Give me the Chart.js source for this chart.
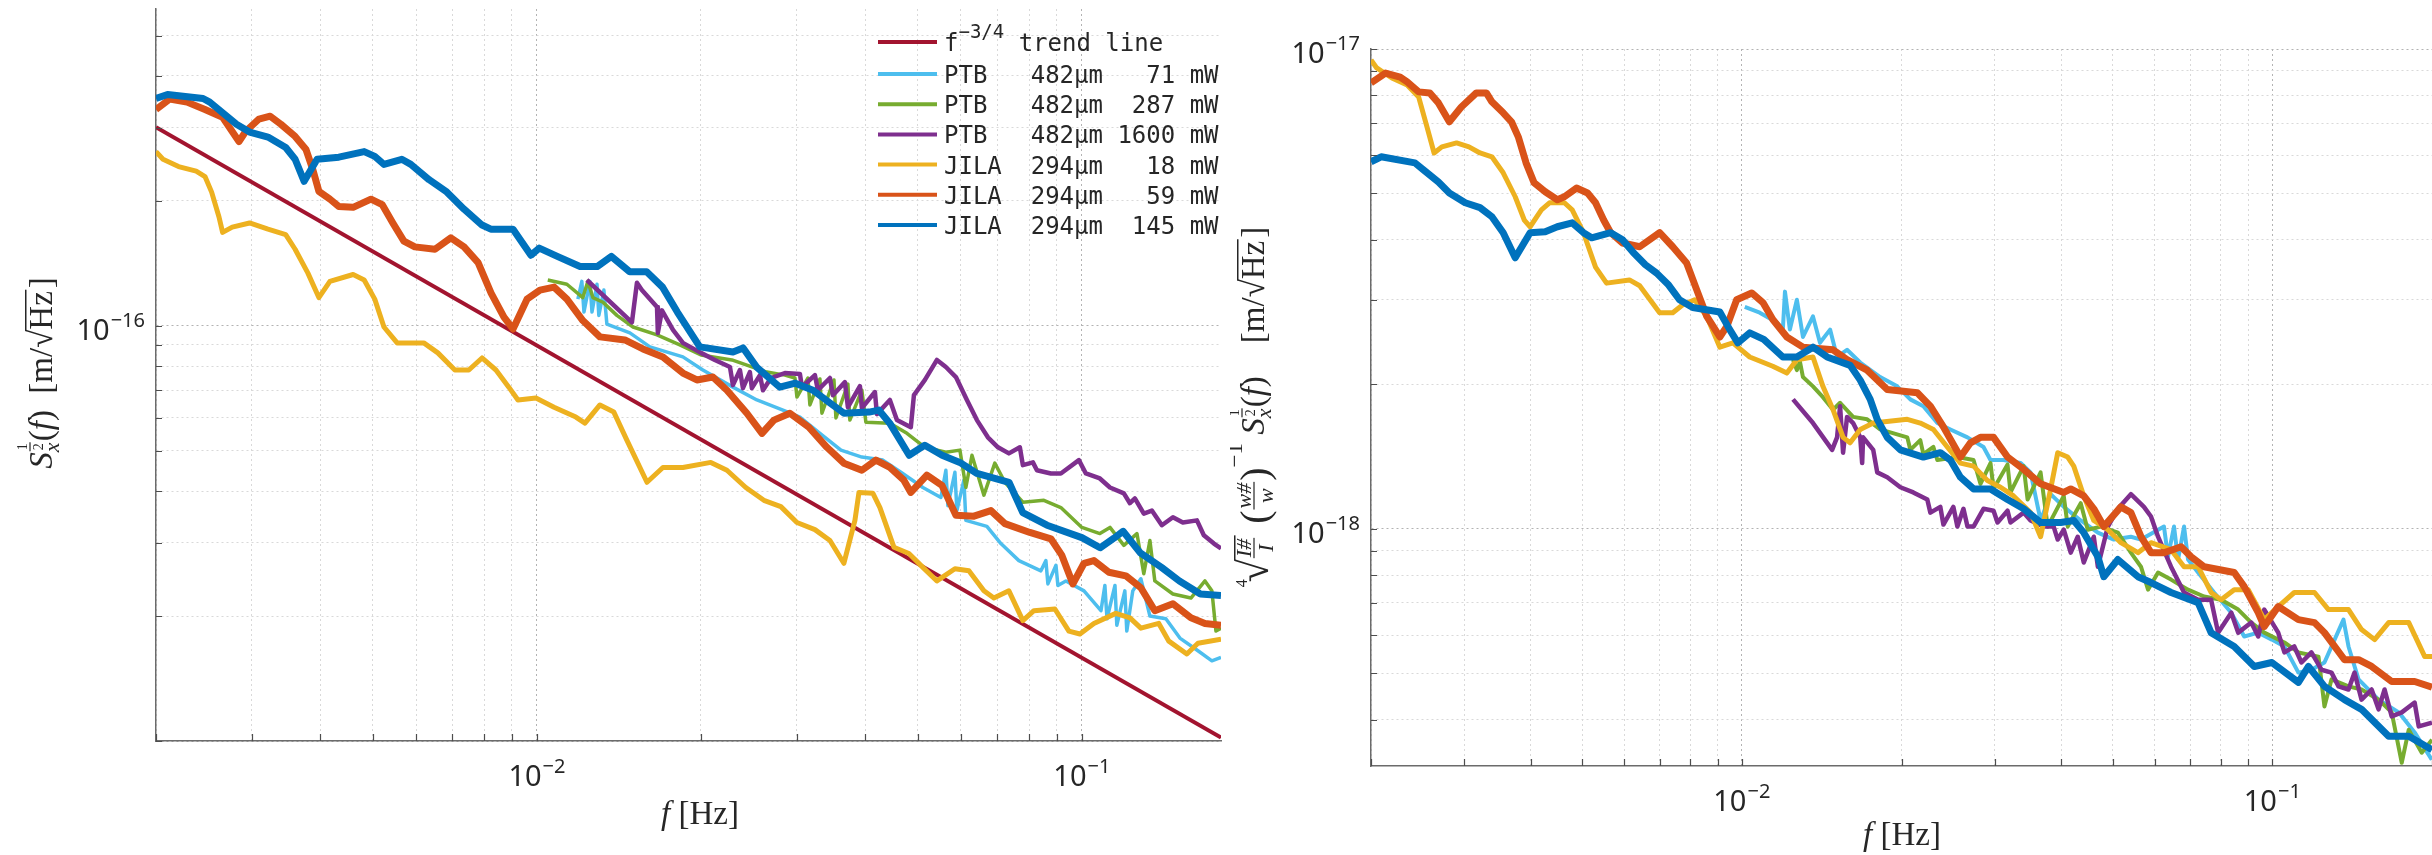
<!DOCTYPE html>
<html>
<head>
<meta charset="utf-8">
<script src="https://cdn.jsdelivr.net/npm/chart.js@4.4.1/dist/chart.umd.min.js"></script>
<style>
  html, body { margin: 0; padding: 0; background: #fff; }
  #wrap { position: relative; width: 2432px; height: 855px; overflow: hidden; }
  canvas { position: absolute; top: 0; }
  #left { left: 0; width: 1230px; height: 855px; }
  #right { left: 1230px; width: 1202px; height: 855px; }
</style>
</head>
<body>
<div id="wrap">
  <canvas id="left" width="1230" height="855"></canvas>
  <canvas id="right" width="1202" height="855"></canvas>
</div>
<script>
// Legend labels, in plotting order
const seriesLabels = [
  "f^(-3/4) trend line",
  "PTB   482μm   71 mW",
  "PTB   482μm  287 mW",
  "PTB   482μm 1600 mW",
  "JILA  294μm   18 mW",
  "JILA  294μm   59 mW",
  "JILA  294μm  145 mW",
];

// Tick labels (powers of ten that carry a label)
const leftXTicks = [0.01, 0.1];
const leftYTicks = [1e-16];
const rightXTicks = [0.01, 0.1];
const rightYTicks = [1e-18, 1e-17];

// ---- left panel: S_x^(1/2)(f) ----
const trendF = [0.002, 0.18];
const trendV = [3.01e-16, 1.02e-17];

const leftPtb71F = [0.01189, 0.01209, 0.0122, 0.01251, 0.01262, 0.01289, 0.01299, 0.01327, 0.01344, 0.01481, 0.01612, 0.01853, 0.02016, 0.02289, 0.02533, 0.02828, 0.03038, 0.03306, 0.03613, 0.03947, 0.04313, 0.04655, 0.05108, 0.05512, 0.05629, 0.05677, 0.05848, 0.05897, 0.06074, 0.06125, 0.06694, 0.07102, 0.07663, 0.0841, 0.08589, 0.08662, 0.08963, 0.09036, 0.09347, 0.1009, 0.1084, 0.1102, 0.1112, 0.115, 0.1159, 0.1199, 0.1209, 0.124, 0.1283, 0.1333, 0.1426, 0.1513, 0.1633, 0.1732, 0.18];
const leftPtb71V = [1.16e-16, 1.28e-16, 1.08e-16, 1.28e-16, 1.08e-16, 1.26e-16, 1.06e-16, 1.22e-16, 1.01e-16, 9.62e-17, 8.9e-17, 8.42e-17, 7.83e-17, 7.12e-17, 6.63e-17, 6.27e-17, 6.03e-17, 5.51e-17, 5.02e-17, 4.83e-17, 4.75e-17, 4.44e-17, 4.08e-17, 3.86e-17, 4.49e-17, 3.69e-17, 4.44e-17, 3.59e-17, 4.25e-17, 3.4e-17, 3.29e-17, 2.99e-17, 2.72e-17, 2.57e-17, 2.72e-17, 2.39e-17, 2.65e-17, 2.37e-17, 2.43e-17, 2.3e-17, 2.06e-17, 2.37e-17, 1.97e-17, 2.37e-17, 1.9e-17, 2.3e-17, 1.84e-17, 2.3e-17, 2.46e-17, 2.0e-17, 1.97e-17, 1.77e-17, 1.65e-17, 1.56e-17, 1.59e-17];

const leftPtb287F = [0.01047, 0.01135, 0.01214, 0.0124, 0.01267, 0.01322, 0.01402, 0.01501, 0.01661, 0.01829, 0.02, 0.02279, 0.02642, 0.02851, 0.02975, 0.03, 0.03142, 0.03169, 0.03306, 0.03334, 0.03508, 0.03537, 0.03721, 0.03752, 0.03947, 0.04015, 0.04443, 0.04775, 0.05152, 0.05629, 0.05973, 0.06125, 0.06285, 0.0661, 0.06922, 0.07223, 0.07793, 0.08516, 0.0915, 0.1, 0.1079, 0.1126, 0.1194, 0.1262, 0.1299, 0.1333, 0.1361, 0.1469, 0.1585, 0.1682, 0.1732, 0.1762, 0.18];
const leftPtb287V = [1.29e-16, 1.26e-16, 1.17e-16, 1.28e-16, 1.17e-16, 1.14e-16, 1.06e-16, 9.94e-17, 9.51e-17, 9.0e-17, 8.51e-17, 8.28e-17, 7.74e-17, 7.61e-17, 7.49e-17, 6.74e-17, 7.49e-17, 6.45e-17, 7.45e-17, 6.16e-17, 7.41e-17, 6.0e-17, 7.24e-17, 5.93e-17, 7.0e-17, 5.86e-17, 5.83e-17, 5.51e-17, 5.1e-17, 4.96e-17, 5.02e-17, 4.08e-17, 4.88e-17, 3.91e-17, 4.67e-17, 4.2e-17, 3.76e-17, 3.8e-17, 3.65e-17, 3.27e-17, 3.16e-17, 3.27e-17, 2.96e-17, 3.16e-17, 2.53e-17, 3.04e-17, 2.43e-17, 2.26e-17, 2.21e-17, 2.43e-17, 2.3e-17, 1.84e-17, 1.87e-17];

const leftPtb1600F = [0.01235, 0.01494, 0.01526, 0.01558, 0.01661, 0.01667, 0.01696, 0.01777, 0.01853, 0.02, 0.02121, 0.02261, 0.02289, 0.02358, 0.02388, 0.02459, 0.0248, 0.02566, 0.02599, 0.02688, 0.02851, 0.03038, 0.03064, 0.03237, 0.03278, 0.03449, 0.03492, 0.03674, 0.03721, 0.03915, 0.03947, 0.04171, 0.04206, 0.04443, 0.04577, 0.04854, 0.04918, 0.05152, 0.0542, 0.05629, 0.05873, 0.06152, 0.06418, 0.06722, 0.07015, 0.07346, 0.07695, 0.07793, 0.08131, 0.0827, 0.08772, 0.0915, 0.09874, 0.1017, 0.1079, 0.1126, 0.1194, 0.1225, 0.1251, 0.1299, 0.1344, 0.1402, 0.1469, 0.1532, 0.1626, 0.1674, 0.1747, 0.18];
const leftPtb1600V = [1.29e-16, 1.02e-16, 1.27e-16, 1.22e-16, 1.11e-16, 9.62e-17, 1.09e-16, 9.78e-17, 9.1e-17, 8.61e-17, 8.28e-17, 7.96e-17, 7.2e-17, 7.83e-17, 7.08e-17, 7.74e-17, 7.08e-17, 7.61e-17, 7.0e-17, 7.49e-17, 7.7e-17, 7.66e-17, 7.12e-17, 7.61e-17, 7.0e-17, 7.49e-17, 6.81e-17, 7.32e-17, 6.37e-17, 7.16e-17, 6.34e-17, 6.93e-17, 6.13e-17, 6.63e-17, 5.93e-17, 5.7e-17, 6.81e-17, 7.41e-17, 8.28e-17, 7.96e-17, 7.53e-17, 6.63e-17, 5.93e-17, 5.39e-17, 5.1e-17, 4.93e-17, 5.1e-17, 4.62e-17, 4.69e-17, 4.49e-17, 4.41e-17, 4.41e-17, 4.75e-17, 4.41e-17, 4.29e-17, 4.08e-17, 3.95e-17, 3.74e-17, 3.84e-17, 3.53e-17, 3.59e-17, 3.31e-17, 3.46e-17, 3.36e-17, 3.4e-17, 3.13e-17, 2.99e-17, 2.91e-17];

const leftJila18F = [0.002, 0.00206, 0.0022, 0.00237, 0.00246, 0.00253, 0.00261, 0.00265, 0.00276, 0.00297, 0.00321, 0.00346, 0.0036, 0.0038, 0.00398, 0.00417, 0.0046, 0.00482, 0.00504, 0.00524, 0.00554, 0.0062, 0.00658, 0.00707, 0.0075, 0.00793, 0.00841, 0.00888, 0.00923, 0.00996, 0.01075, 0.01179, 0.01225, 0.01305, 0.01384, 0.01463, 0.01592, 0.01703, 0.01853, 0.02085, 0.02232, 0.02417, 0.02609, 0.02803, 0.03, 0.03237, 0.03449, 0.03658, 0.03833, 0.03899, 0.04136, 0.0426, 0.04519, 0.04815, 0.05108, 0.0542, 0.05848, 0.06204, 0.0661, 0.06894, 0.07346, 0.07793, 0.08166, 0.08922, 0.09465, 0.09916, 0.1052, 0.1154, 0.1225, 0.1283, 0.1384, 0.1444, 0.1558, 0.1633, 0.18];
const leftJila18V = [2.63e-16, 2.52e-16, 2.42e-16, 2.36e-16, 2.29e-16, 2.1e-16, 1.83e-16, 1.68e-16, 1.73e-16, 1.77e-16, 1.71e-16, 1.66e-16, 1.53e-16, 1.34e-16, 1.17e-16, 1.28e-16, 1.33e-16, 1.29e-16, 1.16e-16, 9.94e-17, 9.1e-17, 9.1e-17, 8.61e-17, 7.83e-17, 7.83e-17, 8.37e-17, 7.83e-17, 7.12e-17, 6.63e-17, 6.7e-17, 6.37e-17, 6.03e-17, 5.83e-17, 6.45e-17, 6.2e-17, 5.3e-17, 4.2e-17, 4.56e-17, 4.56e-17, 4.69e-17, 4.49e-17, 4.08e-17, 3.8e-17, 3.67e-17, 3.36e-17, 3.23e-17, 3.04e-17, 2.68e-17, 3.4e-17, 3.97e-17, 3.95e-17, 3.65e-17, 2.93e-17, 2.83e-17, 2.62e-17, 2.43e-17, 2.6e-17, 2.57e-17, 2.3e-17, 2.21e-17, 2.3e-17, 1.95e-17, 2.06e-17, 2.08e-17, 1.84e-17, 1.81e-17, 1.92e-17, 2.03e-17, 1.98e-17, 1.87e-17, 1.92e-17, 1.74e-17, 1.62e-17, 1.72e-17, 1.76e-17];

const leftJila59F = [0.002, 0.00212, 0.00228, 0.00246, 0.00265, 0.00284, 0.00292, 0.00309, 0.00324, 0.00339, 0.0036, 0.00377, 0.00388, 0.00398, 0.00417, 0.00433, 0.0046, 0.00496, 0.0052, 0.00544, 0.0057, 0.00597, 0.0065, 0.00695, 0.00735, 0.0078, 0.00824, 0.0087, 0.00904, 0.00959, 0.01013, 0.01075, 0.01135, 0.01214, 0.01305, 0.0145, 0.01565, 0.01703, 0.01853, 0.01966, 0.02103, 0.02232, 0.02428, 0.02588, 0.02722, 0.02912, 0.03155, 0.03405, 0.03658, 0.03947, 0.04188, 0.04443, 0.04713, 0.04854, 0.05195, 0.05535, 0.05873, 0.06338, 0.06808, 0.07223, 0.08027, 0.08772, 0.0919, 0.09627, 0.1009, 0.1052, 0.1121, 0.1204, 0.1283, 0.1361, 0.1469, 0.1585, 0.1682, 0.18];
const leftJila59V = [3.32e-16, 3.52e-16, 3.46e-16, 3.32e-16, 3.18e-16, 2.78e-16, 2.94e-16, 3.15e-16, 3.2e-16, 3.06e-16, 2.86e-16, 2.66e-16, 2.38e-16, 2.11e-16, 2.02e-16, 1.94e-16, 1.93e-16, 2.02e-16, 1.96e-16, 1.77e-16, 1.6e-16, 1.55e-16, 1.53e-16, 1.63e-16, 1.55e-16, 1.42e-16, 1.2e-16, 1.05e-16, 9.83e-17, 1.16e-16, 1.22e-16, 1.24e-16, 1.16e-16, 1.03e-16, 9.41e-17, 9.25e-17, 8.8e-17, 8.42e-17, 7.7e-17, 7.41e-17, 7.53e-17, 7.0e-17, 6.16e-17, 5.51e-17, 5.93e-17, 6.16e-17, 5.7e-17, 5.1e-17, 4.67e-17, 4.49e-17, 4.75e-17, 4.56e-17, 4.25e-17, 3.97e-17, 4.37e-17, 4.13e-17, 3.5e-17, 3.48e-17, 3.59e-17, 3.34e-17, 3.18e-17, 3.07e-17, 2.8e-17, 2.39e-17, 2.68e-17, 2.72e-17, 2.55e-17, 2.5e-17, 2.34e-17, 2.06e-17, 2.14e-17, 1.98e-17, 1.92e-17, 1.9e-17];

const leftJila145F = [0.002, 0.0021, 0.00244, 0.00251, 0.00281, 0.00297, 0.00321, 0.00346, 0.0036, 0.00374, 0.00395, 0.00433, 0.00482, 0.00504, 0.00524, 0.00565, 0.00587, 0.00634, 0.00681, 0.00735, 0.00793, 0.00823, 0.00904, 0.00975, 0.0101, 0.0109, 0.012, 0.0129, 0.0137, 0.0148, 0.0159, 0.017, 0.0181, 0.0199, 0.0229, 0.0239, 0.0253, 0.0279, 0.0298, 0.0321, 0.0345, 0.0366, 0.0407, 0.0424, 0.0444, 0.0482, 0.0515, 0.0554, 0.0597, 0.0642, 0.0735, 0.0779, 0.0863, 0.1, 0.108, 0.1145, 0.119, 0.128, 0.14, 0.151, 0.165, 0.18];
const leftJila145V = [3.53e-16, 3.61e-16, 3.53e-16, 3.46e-16, 3.06e-16, 2.93e-16, 2.85e-16, 2.69e-16, 2.52e-16, 2.23e-16, 2.52e-16, 2.55e-16, 2.63e-16, 2.56e-16, 2.45e-16, 2.52e-16, 2.45e-16, 2.25e-16, 2.11e-16, 1.91e-16, 1.75e-16, 1.71e-16, 1.71e-16, 1.48e-16, 1.54e-16, 1.47e-16, 1.39e-16, 1.39e-16, 1.47e-16, 1.35e-16, 1.35e-16, 1.24e-16, 1.08e-16, 8.9e-17, 8.65e-17, 8.85e-17, 7.96e-17, 7.12e-17, 7.28e-17, 7.0e-17, 6.52e-17, 6.16e-17, 6.2e-17, 6.27e-17, 5.83e-17, 4.88e-17, 5.16e-17, 4.88e-17, 4.69e-17, 4.41e-17, 4.2e-17, 3.55e-17, 3.31e-17, 3.09e-17, 2.92e-17, 3.08e-17, 3.2e-17, 2.84e-17, 2.62e-17, 2.43e-17, 2.26e-17, 2.24e-17];

// ---- right panel: normalised spectra ----
const rightPtb71F = [0.01013, 0.01081, 0.01165, 0.01195, 0.01206, 0.01232, 0.0127, 0.01304, 0.01362, 0.01404, 0.01467, 0.01512, 0.01579, 0.01672, 0.01823, 0.01963, 0.02078, 0.02199, 0.02337, 0.02473, 0.02663, 0.02855, 0.02943, 0.03114, 0.03354, 0.03502, 0.03658, 0.03821, 0.04045, 0.04354, 0.0469, 0.05027, 0.05413, 0.05655, 0.06248, 0.0636, 0.06527, 0.06642, 0.06818, 0.06937, 0.07246, 0.07767, 0.08368, 0.08852, 0.09408, 0.0998, 0.1054, 0.112, 0.1185, 0.1254, 0.1362, 0.1392, 0.1454, 0.1586, 0.1731, 0.1855, 0.1998];
const rightPtb71V = [2.9e-18, 2.82e-18, 2.69e-18, 2.6e-18, 3.12e-18, 2.6e-18, 3.0e-18, 2.51e-18, 2.77e-18, 2.44e-18, 2.6e-18, 2.28e-18, 2.36e-18, 2.22e-18, 2.07e-18, 1.98e-18, 1.86e-18, 1.8e-18, 1.66e-18, 1.61e-18, 1.55e-18, 1.48e-18, 1.39e-18, 1.39e-18, 1.37e-18, 1.31e-18, 1.04e-18, 1.18e-18, 1.11e-18, 1.04e-18, 9.81e-19, 9.49e-19, 9.62e-19, 9.49e-19, 1.01e-18, 8.74e-19, 1.01e-18, 8.62e-19, 1.01e-18, 8.62e-19, 8.1e-19, 7.36e-19, 6.68e-19, 5.96e-19, 6.07e-19, 5.87e-19, 5.68e-19, 5.01e-19, 5.08e-19, 5.26e-19, 6.46e-19, 5.68e-19, 4.85e-19, 4.4e-19, 4.14e-19, 3.76e-19, 3.3e-19];

const rightPtb287F = [0.01249, 0.0127, 0.01287, 0.01304, 0.01362, 0.01422, 0.01486, 0.01532, 0.01621, 0.01723, 0.01823, 0.02051, 0.02078, 0.0217, 0.02199, 0.02297, 0.02337, 0.02549, 0.02734, 0.02818, 0.02943, 0.02982, 0.03169, 0.0321, 0.03398, 0.03457, 0.03658, 0.03772, 0.04045, 0.04115, 0.04354, 0.04488, 0.0475, 0.05116, 0.05413, 0.05655, 0.05831, 0.0609, 0.06443, 0.06937, 0.07438, 0.08008, 0.08626, 0.09127, 0.09658, 0.1054, 0.112, 0.1222, 0.1254, 0.1293, 0.1392, 0.1473, 0.1586, 0.1679, 0.1754, 0.1808, 0.1913, 0.2];
const rightPtb287V = [2.25e-18, 2.14e-18, 2.23e-18, 2.07e-18, 1.98e-18, 1.88e-18, 1.77e-18, 1.83e-18, 1.71e-18, 1.69e-18, 1.61e-18, 1.55e-18, 1.46e-18, 1.53e-18, 1.43e-18, 1.48e-18, 1.39e-18, 1.41e-18, 1.39e-18, 1.24e-18, 1.37e-18, 1.21e-18, 1.36e-18, 1.19e-18, 1.35e-18, 1.15e-18, 1.31e-18, 1.01e-18, 1.17e-18, 1.01e-18, 1.13e-18, 9.95e-19, 1.01e-18, 9.81e-19, 8.91e-19, 8.33e-19, 7.46e-19, 8.1e-19, 7.83e-19, 7.46e-19, 7.22e-19, 7.11e-19, 6.78e-19, 6.37e-19, 6.07e-19, 5.79e-19, 5.52e-19, 5.41e-19, 4.26e-19, 4.85e-19, 4.69e-19, 4.62e-19, 4.4e-19, 4.14e-19, 3.25e-19, 3.81e-19, 3.41e-19, 3.63e-19];

const rightPtb1600F = [0.01249, 0.01362, 0.0148, 0.01512, 0.01532, 0.01552, 0.01579, 0.01621, 0.01672, 0.01686, 0.01693, 0.01769, 0.018, 0.0188, 0.0199, 0.02105, 0.02237, 0.02267, 0.02367, 0.02399, 0.02505, 0.02549, 0.02617, 0.02663, 0.02734, 0.02855, 0.02982, 0.03034, 0.03169, 0.0321, 0.03398, 0.03502, 0.03707, 0.03871, 0.0394, 0.04045, 0.04169, 0.04298, 0.04412, 0.04608, 0.0469, 0.04898, 0.05116, 0.05413, 0.05728, 0.05906, 0.0609, 0.06443, 0.06818, 0.07246, 0.07667, 0.07904, 0.08368, 0.08626, 0.09127, 0.09408, 0.09658, 0.1026, 0.1054, 0.11, 0.1135, 0.1185, 0.1238, 0.1293, 0.1333, 0.1392, 0.1429, 0.1473, 0.1539, 0.1586, 0.1628, 0.1679, 0.1754, 0.1855, 0.1888, 0.2];
const rightPtb1600V = [1.86e-18, 1.66e-18, 1.46e-18, 1.55e-18, 1.8e-18, 1.44e-18, 1.71e-18, 1.66e-18, 1.55e-18, 1.37e-18, 1.55e-18, 1.46e-18, 1.31e-18, 1.28e-18, 1.22e-18, 1.19e-18, 1.15e-18, 1.08e-18, 1.11e-18, 1.02e-18, 1.11e-18, 1.01e-18, 1.1e-18, 1.01e-18, 1.01e-18, 1.1e-18, 1.09e-18, 1.03e-18, 1.09e-18, 1.03e-18, 1.08e-18, 1.04e-18, 1.01e-18, 1.01e-18, 9.49e-19, 9.95e-19, 8.91e-19, 9.62e-19, 8.5e-19, 9.62e-19, 8.33e-19, 1.01e-18, 1.1e-18, 1.18e-18, 1.11e-18, 1.06e-18, 9.62e-19, 8.33e-19, 7.36e-19, 7.11e-19, 7.11e-19, 6.07e-19, 6.68e-19, 6.07e-19, 6.37e-19, 5.96e-19, 6.78e-19, 6.07e-19, 5.52e-19, 5.68e-19, 5.26e-19, 5.52e-19, 5.08e-19, 5.01e-19, 4.69e-19, 4.62e-19, 5.01e-19, 4.4e-19, 4.62e-19, 4.2e-19, 4.62e-19, 4.06e-19, 4.14e-19, 4.34e-19, 3.87e-19, 3.94e-19];

const rightJila18F = [0.002, 0.00205, 0.00219, 0.00234, 0.00246, 0.00255, 0.00263, 0.00272, 0.0029, 0.00306, 0.00321, 0.00338, 0.00355, 0.00374, 0.00389, 0.00399, 0.00419, 0.00434, 0.00463, 0.00479, 0.00503, 0.0053, 0.00556, 0.00614, 0.00642, 0.007, 0.00741, 0.00774, 0.00815, 0.00859, 0.00909, 0.00962, 0.01035, 0.01144, 0.01216, 0.0127, 0.01362, 0.01422, 0.01486, 0.01552, 0.016, 0.01672, 0.01769, 0.02051, 0.0217, 0.02297, 0.0244, 0.02583, 0.02734, 0.02904, 0.03074, 0.03253, 0.03502, 0.03658, 0.03821, 0.0394, 0.04115, 0.04224, 0.04412, 0.04608, 0.04898, 0.05183, 0.05581, 0.05906, 0.06443, 0.06818, 0.07246, 0.07667, 0.08008, 0.08475, 0.09008, 0.09658, 0.1026, 0.11, 0.1201, 0.1276, 0.1392, 0.1473, 0.1559, 0.1657, 0.1808, 0.1938, 0.2];
const rightJila18V = [9.49e-18, 9.13e-18, 8.7e-18, 8.41e-18, 7.94e-18, 6.88e-18, 6.07e-18, 6.25e-18, 6.37e-18, 6.25e-18, 6.07e-18, 5.96e-18, 5.52e-18, 4.92e-18, 4.4e-18, 4.26e-18, 4.62e-18, 4.78e-18, 4.78e-18, 4.62e-18, 4.14e-18, 3.51e-18, 3.25e-18, 3.3e-18, 3.21e-18, 2.82e-18, 2.82e-18, 2.93e-18, 3.0e-18, 2.77e-18, 2.39e-18, 2.44e-18, 2.28e-18, 2.18e-18, 2.11e-18, 2.25e-18, 2.28e-18, 1.98e-18, 1.77e-18, 1.55e-18, 1.51e-18, 1.61e-18, 1.66e-18, 1.69e-18, 1.66e-18, 1.61e-18, 1.48e-18, 1.37e-18, 1.35e-18, 1.26e-18, 1.22e-18, 1.17e-18, 1.08e-18, 9.62e-19, 1.21e-18, 1.44e-18, 1.41e-18, 1.35e-18, 1.17e-18, 1.04e-18, 9.95e-19, 9.35e-19, 8.91e-19, 9.35e-19, 9.04e-19, 8.33e-19, 8.33e-19, 7.36e-19, 7.11e-19, 7.46e-19, 7.46e-19, 6.46e-19, 6.88e-19, 7.36e-19, 7.36e-19, 6.78e-19, 6.78e-19, 6.16e-19, 5.87e-19, 6.37e-19, 6.37e-19, 5.41e-19, 5.41e-19];

const rightJila59F = [0.002, 0.00213, 0.00227, 0.00234, 0.00246, 0.00258, 0.00268, 0.00281, 0.00296, 0.00316, 0.0033, 0.00338, 0.00355, 0.00368, 0.00379, 0.00392, 0.00406, 0.00426, 0.00449, 0.00463, 0.00488, 0.00512, 0.0053, 0.00549, 0.00566, 0.00596, 0.00642, 0.007, 0.00741, 0.00787, 0.00822, 0.00859, 0.00909, 0.00937, 0.00978, 0.01044, 0.01096, 0.01144, 0.01216, 0.01304, 0.01486, 0.01579, 0.01723, 0.0188, 0.02142, 0.02267, 0.02399, 0.02583, 0.02698, 0.02818, 0.02982, 0.03169, 0.03398, 0.03658, 0.04045, 0.04169, 0.04412, 0.04608, 0.04813, 0.05183, 0.05413, 0.05655, 0.05906, 0.06248, 0.0673, 0.07029, 0.07438, 0.08475, 0.08852, 0.09408, 0.09658, 0.1026, 0.112, 0.1201, 0.1254, 0.1368, 0.1454, 0.1539, 0.1679, 0.1855, 0.2];
const rightJila59V = [8.5e-18, 8.91e-18, 8.74e-18, 8.54e-18, 8.14e-18, 8.1e-18, 7.72e-18, 7.05e-18, 7.57e-18, 8.1e-18, 8.1e-18, 7.76e-18, 7.36e-18, 7.05e-18, 6.56e-18, 5.79e-18, 5.26e-18, 5.04e-18, 4.85e-18, 4.92e-18, 5.13e-18, 5.01e-18, 4.78e-18, 4.4e-18, 4.14e-18, 3.94e-18, 3.87e-18, 4.14e-18, 3.87e-18, 3.58e-18, 3.15e-18, 2.77e-18, 2.51e-18, 2.64e-18, 3.0e-18, 3.1e-18, 2.96e-18, 2.73e-18, 2.51e-18, 2.39e-18, 2.36e-18, 2.25e-18, 2.14e-18, 1.95e-18, 1.92e-18, 1.8e-18, 1.63e-18, 1.41e-18, 1.51e-18, 1.55e-18, 1.55e-18, 1.41e-18, 1.33e-18, 1.24e-18, 1.19e-18, 1.21e-18, 1.17e-18, 1.1e-18, 1.01e-18, 1.11e-18, 1.08e-18, 9.62e-19, 8.91e-19, 8.91e-19, 9.17e-19, 8.74e-19, 8.33e-19, 8.1e-19, 7.57e-19, 6.68e-19, 6.25e-19, 6.88e-19, 6.46e-19, 6.37e-19, 6.07e-19, 5.33e-19, 5.33e-19, 5.16e-19, 4.8e-19, 4.8e-19, 4.67e-19];

const rightJila145F = [0.002, 0.00209, 0.00242, 0.00251, 0.00268, 0.00281, 0.00301, 0.00321, 0.00338, 0.00355, 0.00374, 0.00399, 0.00426, 0.00449, 0.00479, 0.00503, 0.00521, 0.00566, 0.00596, 0.00625, 0.00658, 0.00691, 0.00728, 0.00763, 0.00808, 0.00909, 0.00949, 0.00983, 0.01035, 0.011, 0.01195, 0.0127, 0.01362, 0.01448, 0.016, 0.01672, 0.01746, 0.018, 0.0188, 0.0199, 0.02199, 0.02367, 0.02473, 0.02583, 0.02734, 0.02943, 0.03169, 0.03398, 0.03658, 0.0399, 0.04224, 0.04412, 0.0469, 0.04813, 0.05116, 0.05581, 0.05906, 0.06443, 0.07246, 0.07667, 0.08475, 0.09247, 0.0998, 0.112, 0.117, 0.1254, 0.1368, 0.1473, 0.1657, 0.1808, 0.2];
const rightJila145V = [5.82e-18, 5.96e-18, 5.79e-18, 5.6e-18, 5.28e-18, 5.01e-18, 4.78e-18, 4.67e-18, 4.47e-18, 4.14e-18, 3.67e-18, 4.14e-18, 4.16e-18, 4.26e-18, 4.34e-18, 4.14e-18, 4.04e-18, 4.14e-18, 4.0e-18, 3.76e-18, 3.55e-18, 3.41e-18, 3.22e-18, 3.0e-18, 2.89e-18, 2.83e-18, 2.6e-18, 2.44e-18, 2.56e-18, 2.48e-18, 2.28e-18, 2.28e-18, 2.39e-18, 2.28e-18, 2.19e-18, 2.04e-18, 1.86e-18, 1.69e-18, 1.55e-18, 1.46e-18, 1.41e-18, 1.44e-18, 1.39e-18, 1.28e-18, 1.21e-18, 1.21e-18, 1.15e-18, 1.1e-18, 1.03e-18, 1.03e-18, 1.04e-18, 9.81e-19, 8.74e-19, 7.94e-19, 8.62e-19, 7.94e-19, 7.72e-19, 7.36e-19, 7.01e-19, 6.07e-19, 5.68e-19, 5.16e-19, 5.26e-19, 4.78e-19, 5.16e-19, 4.69e-19, 4.4e-19, 4.2e-19, 3.69e-19, 3.69e-19, 3.46e-19];

// MATLAB default line colours
const colors = {
  trend: "#A2142F",
  ptb71: "#4DBEEE",
  ptb287: "#77AC30",
  ptb1600: "#7E2F8E",
  jila18: "#EDB120",
  jila59: "#D95319",
  jila145: "#0072BD",
};

const SERIF = '"Liberation Serif", "DejaVu Serif", serif';
const SANS = '"Noto Sans", "DejaVu Sans", sans-serif';
const MONO = '"DejaVu Sans Mono", "Liberation Mono", monospace';
const INK = "#262626";

function pts(f, v) {
  const n = Math.min(f.length, v.length);
  const out = [];
  for (let i = 0; i < n; i++) out.push({ x: f[i], y: v[i] });
  return out;
}

function series(label, color, width, f, v, order) {
  return {
    label,
    data: pts(f, v),
    borderColor: color,
    backgroundColor: color,
    borderWidth: width,
    pointRadius: 0,
    tension: 0,
    borderJoinStyle: "round",
    fill: false,
    order, // lower order is drawn on top (JILA 145 mW last, like MATLAB)
  };
}

// every 1..9 x 10^n inside the range, decades marked major
function logTicks(min, max) {
  const ticks = [];
  for (let e = Math.floor(Math.log10(min)); e <= Math.ceil(Math.log10(max)); e++) {
    for (let m = 1; m <= 9; m++) {
      const v = m * Math.pow(10, e);
      if (v >= min * 0.9999 && v <= max * 1.0001) ticks.push({ value: v, major: m === 1 });
    }
  }
  return ticks;
}

function axis(range, pos, size) {
  return {
    type: "logarithmic",
    position: pos,
    min: range[0],
    max: range[1],
    afterBuildTicks: (s) => { s.ticks = logTicks(range[0], range[1]); },
    afterFit: (s) => { if (pos === "bottom") s.height = size; else s.width = size; },
    ticks: { display: false, autoSkip: false },
    grid: {
      drawTicks: false,
      lineWidth: 1,
      color: (c) => (c.tick && c.tick.major ? "#b3b3b3" : "#d9d9d9"),
    },
    border: { display: true, color: "#6b6b6b", width: 1.5, dash: [2, 3] },
  };
}

// --- small rich-text helper for the LaTeX-like labels ---
function measure(ctx, p) {
  if (p.frac) {
    ctx.font = p.font;
    return Math.max(ctx.measureText(p.frac[0]).width, ctx.measureText(p.frac[1]).width) + 4;
  }
  if (p.stack) return Math.max(measure(ctx, p.stack[0]), measure(ctx, p.stack[1]));
  if (p.rad) {
    ctx.font = p.font;
    let w = ctx.measureText("√").width;
    p.rad.forEach((q) => (w += measure(ctx, q)));
    return w + 3;
  }
  ctx.font = p.font;
  return ctx.measureText(p.t).width + (p.kern || 0);
}

function paint(ctx, p, x, y) {
  const dy = p.dy || 0;
  if (p.frac) {
    const w = measure(ctx, p);
    const bar = y + dy;
    ctx.font = p.font;
    ctx.textAlign = "center";
    ctx.fillText(p.frac[0], x + w / 2, bar - 3);
    ctx.fillText(p.frac[1], x + w / 2, bar + p.size * 0.75 + 2);
    ctx.textAlign = "left";
    ctx.fillRect(x + 1, bar - 0.6, w - 2, 1.2);
    return w;
  }
  if (p.stack) {
    paint(ctx, p.stack[0], x, y);
    paint(ctx, p.stack[1], x, y);
    return measure(ctx, p);
  }
  if (p.rad) {
    ctx.font = p.font;
    const m = ctx.measureText("√");
    const top = y + dy - m.actualBoundingBoxAscent;
    ctx.fillText("√", x, y + dy);
    let cx = x + m.width;
    p.rad.forEach((q) => (cx += paint(ctx, q, cx, y)));
    ctx.fillRect(x + m.width - 1.5, top, cx - x - m.width + 3, 1.5);
    return cx - x + 3;
  }
  ctx.font = p.font;
  ctx.fillText(p.t, x, y + dy);
  return ctx.measureText(p.t).width + (p.kern || 0);
}

function richWidth(ctx, parts) {
  return parts.reduce((w, p) => w + measure(ctx, p), 0);
}

function drawRich(ctx, parts, x, y) {
  ctx.textAlign = "left";
  parts.forEach((p) => (x += paint(ctx, p, x, y)));
  return x;
}

function powLabel(ctx, v, x, y, align) {
  const e = Math.round(Math.log10(v));
  const exp = (e < 0 ? "−" : "") + Math.abs(e);
  ctx.font = "29px " + SANS;
  const w1 = ctx.measureText("10").width;
  ctx.font = "20px " + SANS;
  const w2 = ctx.measureText(exp).width;
  const w = w1 + 1 + w2;
  const x0 = align === "center" ? x - w / 2 : x - w;
  ctx.textAlign = "left";
  ctx.font = "29px " + SANS;
  ctx.fillText("10", x0, y);
  ctx.font = "20px " + SANS;
  ctx.fillText(exp, x0 + w1 + 1, y - 13);
}

function drawLegend(chart) {
  const ctx = chart.ctx;
  chart.data.datasets.forEach((ds, i) => {
    const row = i === 0 ? 42 : 74 + (i - 1) * 30.2;
    ctx.setLineDash([]);
    ctx.strokeStyle = ds.borderColor;
    ctx.lineWidth = 4;
    ctx.beginPath();
    ctx.moveTo(878, row);
    ctx.lineTo(937, row);
    ctx.stroke();
    ctx.fillStyle = INK;
    const parts = ds.legendParts || [{ t: ds.label, font: "24px " + MONO }];
    drawRich(ctx, parts, 944, row + 9);
  });
}

function makeDecor(opt) {
  return {
    id: "decor",
    afterDraw(chart) {
      const { ctx, chartArea: a, scales } = chart;
      const sx = scales.x, sy = scales.y;
      ctx.save();
      ctx.setLineDash([]);
      // MATLAB-style inward tick marks
      ctx.strokeStyle = "#4d4d4d";
      ctx.lineWidth = 1.2;
      ctx.beginPath();
      sx.ticks.forEach((t) => {
        const px = Math.round(sx.getPixelForValue(t.value)) + 0.5;
        ctx.moveTo(px, a.bottom);
        ctx.lineTo(px, a.bottom - 7);
      });
      sy.ticks.forEach((t) => {
        const py = Math.round(sy.getPixelForValue(t.value)) + 0.5;
        ctx.moveTo(a.left, py);
        ctx.lineTo(a.left + 6, py);
      });
      ctx.stroke();

      ctx.fillStyle = INK;
      ctx.textBaseline = "alphabetic";
      opt.xTicks.forEach((v) => powLabel(ctx, v, sx.getPixelForValue(v), a.bottom + 45, "center"));
      opt.yTicks.forEach((v) => powLabel(ctx, v, a.left - 11, sy.getPixelForValue(v) + 14, "right"));

      const xt = [
        { t: "f", font: "italic 33px " + SERIF },
        { t: " [Hz]", font: "33px " + SERIF },
      ];
      drawRich(ctx, xt, opt.xTitle[0] - richWidth(ctx, xt) / 2, opt.xTitle[1]);

      ctx.save();
      ctx.translate(opt.yTitle[0], opt.yTitle[1]);
      ctx.rotate(-Math.PI / 2);
      drawRich(ctx, opt.yParts, -richWidth(ctx, opt.yParts) / 2, 0);
      ctx.restore();

      if (opt.legend) drawLegend(chart);
      ctx.restore();
    },
  };
}

const sFrac = { frac: ["1", "2"], font: "14px " + SERIF, size: 14, dy: -22 };
const sSub = { t: "x", font: "italic 22px " + SERIF, dy: 7 };

const leftYParts = [
  { t: "S", font: "italic 33px " + SERIF },
  { stack: [sFrac, sSub] },
  { t: "(", font: "33px " + SERIF },
  { t: "f", font: "italic 33px " + SERIF },
  { t: ")  [m/", font: "33px " + SERIF },
  { rad: [{ t: "Hz", font: "33px " + SERIF }], font: "33px " + SERIF },
  { t: "]", font: "33px " + SERIF },
];

const rightYParts = [
  { t: "4", font: "16px " + SERIF, dy: -17, kern: -3 },
  { rad: [{ frac: ["I#", "I"], font: "italic 22px " + SERIF, size: 22, dy: -10 }], font: "42px " + SERIF, dy: 4 },
  { t: " (", font: "40px " + SERIF, dy: 4 },
  { frac: ["w#", "w"], font: "italic 22px " + SERIF, size: 22, dy: -10 },
  { t: ")", font: "40px " + SERIF, dy: 4 },
  { t: "−1", font: "23px " + SERIF, dy: -22 },
  { t: " S", font: "italic 33px " + SERIF },
  { stack: [sFrac, sSub] },
  { t: "(", font: "33px " + SERIF },
  { t: "f", font: "italic 33px " + SERIF },
  { t: ")    [m/", font: "33px " + SERIF },
  { rad: [{ t: "Hz", font: "33px " + SERIF }], font: "33px " + SERIF },
  { t: "]", font: "33px " + SERIF },
];

function baseOptions(xRange, yRange, pad, yw, xh) {
  return {
    responsive: false,
    maintainAspectRatio: false,
    animation: false,
    devicePixelRatio: 1,
    events: [],
    layout: { padding: pad },
    plugins: { legend: { display: false }, tooltip: { enabled: false } },
    scales: { x: axis(xRange, "bottom", xh), y: axis(yRange, "left", yw) },
  };
}

// Left panel
const leftSets = [
  series(seriesLabels[0], colors.trend, 4, trendF, trendV, 6),
  series(seriesLabels[1], colors.ptb71, 3.5, leftPtb71F, leftPtb71V, 5),
  series(seriesLabels[2], colors.ptb287, 3.5, leftPtb287F, leftPtb287V, 4),
  series(seriesLabels[3], colors.ptb1600, 4.5, leftPtb1600F, leftPtb1600V, 3),
  series(seriesLabels[4], colors.jila18, 5, leftJila18F, leftJila18V, 2),
  series(seriesLabels[5], colors.jila59, 7, leftJila59F, leftJila59V, 1),
  series(seriesLabels[6], colors.jila145, 7, leftJila145F, leftJila145V, 0),
];
leftSets[0].legendParts = [
  { t: "f", font: "24px " + MONO },
  { t: "−3/4", font: "19px " + MONO, dy: -13 },
  { t: " trend line", font: "24px " + MONO },
];

new Chart(document.getElementById("left"), {
  type: "line",
  data: { datasets: leftSets },
  options: baseOptions([0.002, 0.18], [1e-17, 5.8e-16], { left: 0, right: 9, top: 9, bottom: 0 }, 156, 114),
  plugins: [makeDecor({
    xTicks: leftXTicks, yTicks: leftYTicks,
    xTitle: [700, 824], yTitle: [52, 373], yParts: leftYParts, legend: true,
  })],
});

// Right panel
const rightSets = [
  series(seriesLabels[1], colors.ptb71, 4, rightPtb71F, rightPtb71V, 5),
  series(seriesLabels[2], colors.ptb287, 4, rightPtb287F, rightPtb287V, 4),
  series(seriesLabels[3], colors.ptb1600, 4.5, rightPtb1600F, rightPtb1600V, 3),
  series(seriesLabels[4], colors.jila18, 5, rightJila18F, rightJila18V, 2),
  series(seriesLabels[5], colors.jila59, 7, rightJila59F, rightJila59V, 1),
  series(seriesLabels[6], colors.jila145, 7, rightJila145F, rightJila145V, 0),
];

new Chart(document.getElementById("right"), {
  type: "line",
  data: { datasets: rightSets },
  options: baseOptions([0.002, 0.2], [3.2e-19, 1e-17], { left: 0, right: 0, top: 49, bottom: 0 }, 141, 89),
  plugins: [makeDecor({
    xTicks: rightXTicks, yTicks: rightYTicks,
    xTitle: [672, 845], yTitle: [34, 407], yParts: rightYParts, legend: false,
  })],
});
</script>
</body>
</html>
